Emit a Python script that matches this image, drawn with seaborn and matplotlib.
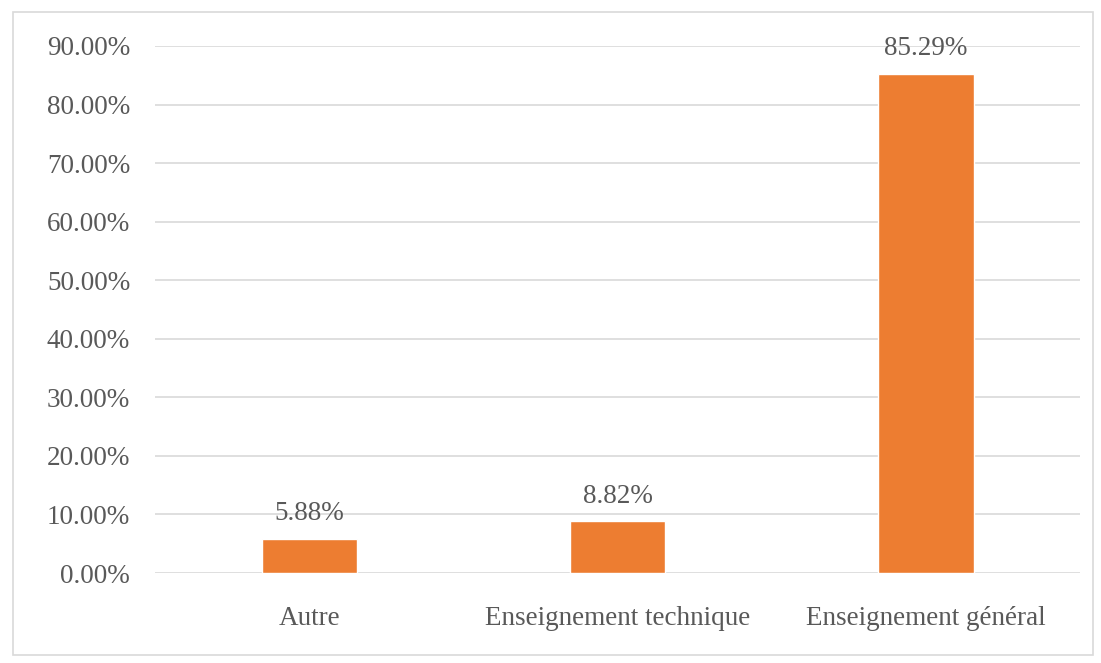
import matplotlib
matplotlib.use("Agg")
import matplotlib.pyplot as plt
import seaborn as sns
import pandas as pd
from matplotlib.patches import Rectangle
from matplotlib.ticker import FuncFormatter

categories = ["Autre", "Enseignement technique", "Enseignement général"]
values = [0.0588, 0.0882, 0.8529]
value_labels = ["5.88%", "8.82%", "85.29%"]
yticks = [0.0, 0.1, 0.2, 0.3, 0.4, 0.5, 0.6, 0.7, 0.8, 0.9]

sns.set_theme(style="white")
plt.rcParams["font.family"] = ["Liberation Serif", "DejaVu Serif"]

text_color = "#595959"
bar_color = "#ED7D31"
grid_color = "#D9D9D9"
fs = 19.5

fig = plt.figure(figsize=(11.01, 6.63), dpi=100)
ax = fig.add_axes([0.141, 0.1357, 0.840, 0.795])

df = pd.DataFrame({"cat": categories, "val": values})
sns.barplot(data=df, x="cat", y="val", color=bar_color, width=0.31,
            saturation=1, ax=ax, zorder=3)

ax.set_ylim(0, 0.9)
ax.set_xlim(-0.5, 2.5)
ax.set_yticks(yticks)
ax.yaxis.set_major_formatter(FuncFormatter(lambda v, p: f"{v*100:.2f}%"))
ax.grid(axis="y", color=grid_color, linewidth=1.2, zorder=0)
ax.set_axisbelow(True)
for s in ax.spines.values():
    s.set_visible(False)
ax.set_xlabel("")
ax.set_ylabel("")
ax.tick_params(axis="y", length=0, pad=18, labelsize=fs, labelcolor=text_color)
ax.tick_params(axis="x", length=0, pad=24, labelsize=fs, labelcolor=text_color)

for i, (v, lab) in enumerate(zip(values, value_labels)):
    ax.annotate(lab, (i, v), xytext=(0, 9), textcoords="offset points",
                ha="center", va="bottom", fontsize=fs, color=text_color)

fig.patches.append(Rectangle((13 / 1101, 8 / 663), 1080 / 1101, 643 / 663,
                             transform=fig.transFigure, fill=False,
                             edgecolor="#D9D9D9", linewidth=1.2))

fig.savefig("out.png", dpi=100)
